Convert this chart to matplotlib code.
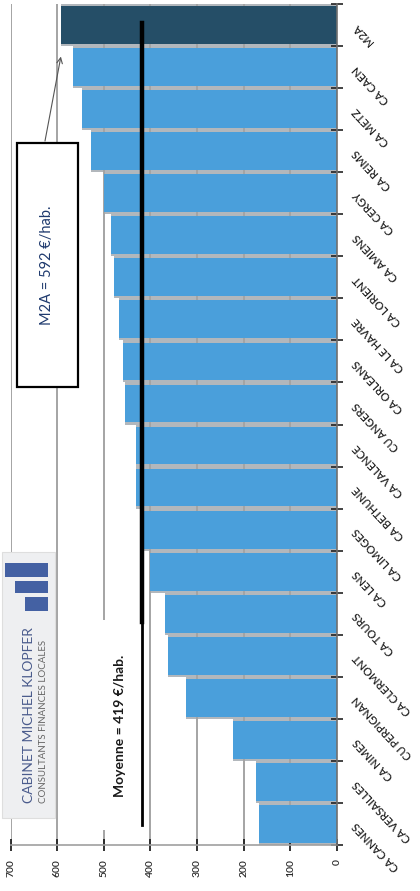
import numpy as np
import matplotlib
matplotlib.use("Agg")
import matplotlib.pyplot as plt
from matplotlib.patches import Rectangle

plt.rcParams['font.family'] = ['Lato', 'DejaVu Sans']

# Dépenses par habitant (€/hab.)
categories = ["M2A", "CA CAEN", "CA METZ", "CA REIMS", "CA CERGY", "CA AMIENS",
              "CA LORIENT", "CA LE HAVRE", "CA ORLEANS", "CU ANGERS", "CA VALENCE",
              "CA BETHUNE", "CA LIMOGES", "CA LENS", "CA TOURS", "CA CLERMONT",
              "CU PERPIGNAN", "CA NIMES", "CA VERSAILLES", "CA CANNES"]
values = [592, 567, 547, 528, 499, 484, 478, 468, 459, 454, 432, 430, 416, 401,
          369, 362, 323, 223, 174, 168]
value_ticks = [0, 100, 200, 300, 400, 500, 600, 700]
highlight = "M2A"

mean_value = round(float(np.mean(values)))

W, H = 420, 891
fig = plt.figure(figsize=(W / 100, H / 100), dpi=100)
fig.patch.set_facecolor("white")


def fx(px):
    return px / W


def fy(py):
    return 1 - py / H


ax = fig.add_axes([fx(10.5), fy(845), (337 - 10.5) / W, (845 - 4) / H])
ax.set_facecolor("white")

pos = np.arange(len(categories))
colors = ["#254e67" if c == highlight else "#4a9fdb" for c in categories]

# soft shadow band under each bar (shows as the grey separators)
ax.barh(pos, values, height=1.0, color="#b2b7bc", zorder=0.3)
ax.barh(pos, values, height=0.9, color=colors, zorder=2)

ax.set_xlim(700, 0)
ax.set_ylim(len(categories) - 0.5, -0.5)

ax.set_axisbelow(True)
ax.xaxis.grid(True, color="#a4a4a4", linewidth=1.4)
ax.yaxis.grid(False)

for s in ["top", "left"]:
    ax.spines[s].set_visible(False)
ax.spines["right"].set_color("#6f6f6f")
ax.spines["right"].set_linewidth(1.2)
ax.spines["right"].set_zorder(3)
ax.spines["bottom"].set_color("#a0a0a0")
ax.spines["bottom"].set_linewidth(1.2)

ax.set_xticks(value_ticks)
ax.set_xticklabels([str(v) for v in value_ticks], rotation=90, fontsize=7.5,
                   color="#2a2a2a", fontweight="semibold")
ax.tick_params(axis="x", direction="inout", length=8, width=1.3,
               color="#222222", pad=6)

ax.yaxis.tick_right()
ax.set_yticks(pos)
ax.set_yticks(np.arange(len(categories) + 1) - 0.5, minor=True)
ax.tick_params(axis="y", which="major", length=0, pad=13)
ax.tick_params(axis="y", which="minor", direction="inout", length=8,
               width=1.2, color="#222222")
ax.set_yticklabels(categories, fontsize=8, color="#222222",
                   fontweight="semibold")
for lab in ax.get_yticklabels():
    lab.set_rotation(133)
    lab.set_rotation_mode("anchor")
    lab.set_ha("right")
    lab.set_va("center")

# average line
ax.axvline(mean_value, ymin=0.265, ymax=0.977, color="black", lw=3.2, zorder=4)
ax.axvline(mean_value, ymin=0.024, ymax=0.265, color="black", lw=2.0, zorder=4)

# callout for the highlighted bar
hi = categories.index(highlight)
box_l, box_t, box_r, box_b = 17, 143, 78, 387
fig.patches.append(Rectangle((fx(box_l), fy(box_b)), (box_r - box_l) / W,
                             (box_b - box_t) / H, transform=fig.transFigure,
                             facecolor="white", edgecolor="black", lw=1.6,
                             zorder=5))
fig.text(fx((box_l + box_r) / 2), fy((box_t + box_b) / 2),
         f"{highlight} = {values[hi]} €/hab.", rotation=90, ha="center",
         va="center", fontsize=10.5, color="#1f3a6e", zorder=6)
ax.annotate("", xy=(values[hi], hi + 0.75), xycoords="data",
            xytext=(fx(45), fy(141)), textcoords="figure fraction",
            arrowprops=dict(arrowstyle="->", color="#555555", lw=0.8,
                            shrinkA=0, shrinkB=0),
            annotation_clip=False, zorder=5)

# average label
fig.patches.append(Rectangle((fx(98), fy(830)), 38 / W, 210 / H,
                             transform=fig.transFigure, facecolor="white",
                             edgecolor="none", zorder=5))
fig.text(fx(120), fy(726), f"Moyenne = {mean_value} €/hab.", rotation=90,
         ha="center", va="center", fontsize=10, fontweight="bold",
         color="#1a1a1a", zorder=6)

# firm logo
fig.patches.append(Rectangle((fx(2), fy(818)), 53 / W, 266 / H,
                             transform=fig.transFigure, facecolor="#eeeff1",
                             edgecolor="#dedede", lw=0.8, zorder=5))
for x0, y0, y1 in [(5, 563, 577), (15, 581, 593), (25, 597, 611)]:
    fig.patches.append(Rectangle((fx(x0), fy(y1)), (48 - x0) / W, (y1 - y0) / H,
                                 transform=fig.transFigure,
                                 facecolor="#4461a3", edgecolor="none",
                                 zorder=6))
fig.text(fx(29), fy(803), "CABINET MICHEL KLOPFER", rotation=90,
         rotation_mode="anchor", ha="left", va="center", fontsize=10,
         color="#4a5b8c", zorder=6)
fig.text(fx(43.5), fy(803), "CONSULTANTS FINANCES LOCALES", rotation=90,
         rotation_mode="anchor", ha="left", va="center", fontsize=7,
         color="#666666", zorder=6)

fig.savefig("out.png", dpi=100)
